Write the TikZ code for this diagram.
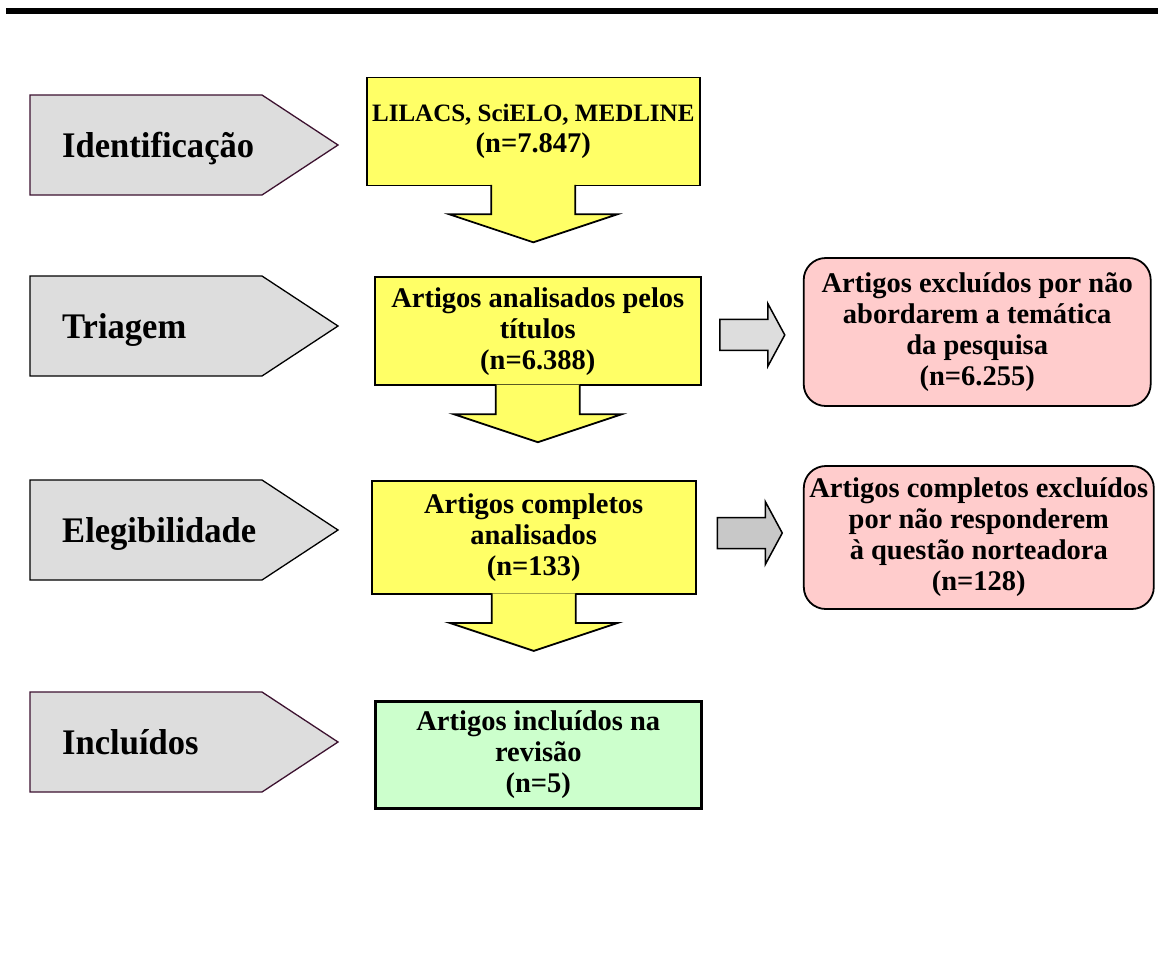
\documentclass[tikz,border=0pt]{standalone}
\usepackage{fontspec}
\setmainfont{Liberation Serif}
\newfontfamily\stagefont{Liberation Serif}[FakeStretch=0.96]
\usetikzlibrary{calc,positioning}
\definecolor{prismaGrey}{HTML}{DDDDDD}
\definecolor{prismaGreyTwo}{HTML}{C8C8C8}
\definecolor{prismaYellow}{HTML}{FFFF66}
\definecolor{prismaGreen}{HTML}{CCFFCC}
\definecolor{prismaPink}{HTML}{FFCCCC}
\definecolor{prismaPlum}{HTML}{3D1230}
% stage label: name, centre y, outline, text
\newcommand{\stagearrow}[4]{%
  \draw[stagebox,draw=#3] (30,#2) ++(0,-50) -- ++(232,0) -- ++(76,50) -- ++(-76,50) -- ++(-232,0) -- cycle;
  \node[stagetext] (#1) at ($(62,#2)+(0,12)$) {#4};}
% block arrow below a box
\newcommand{\blockdown}[2]{%
  \draw[line width=1.8pt,fill=#2] ($(#1.south)+(-42,-1.5)$) -- ++(0,29.5) -- ++(-42,0) -- ++(84,28) -- ++(84,-28) -- ++(-42,0) -- ++(0,-29.5);}
% block arrow between two boxes
\newcommand{\blockright}[4]{%
  \coordinate (mid) at ($(#1.east)!0.5!(#2.west)+(0,#4)$);
  \draw[line width=1.5pt,fill=#3] ($(mid)+(-32.5,-15.5)$) -- ++(48,0) -- ++(0,-16) -- ++(17,31.5) -- ++(-17,31.5) -- ++(0,-16) -- ++(-48,0) -- cycle;}

\begin{document}
\begin{tikzpicture}[x=1pt,y=-1pt,line join=miter]
\path[fill=white] (0,0) rectangle (1158,962);
\path[fill=black] (6,8) rectangle (1158,14);
\tikzset{stagebox/.style={fill=prismaGrey,line width=1.3pt},stagetext/.style={anchor=base west,inner sep=0pt,font=\stagefont\fontsize{36}{40}\selectfont\bfseries},box/.style={draw=black,line width=1.8pt,align=center,inner sep=0pt,font=\fontsize{28.5}{31}\selectfont\bfseries}}
\stagearrow{ident}{145}{prismaPlum}{Identificação}
\stagearrow{triag}{326}{black}{Triagem}
\stagearrow{eleg}{530}{black}{Elegibilidade}
\stagearrow{incl}{742}{prismaPlum}{Incluídos}
\node[box,fill=prismaYellow,minimum width=333pt,minimum height=108pt] (db) at (533.3,131.4) {{\fontsize{25}{31}\selectfont LILACS, SciELO, MEDLINE}\\(n=7.847)};
\node[box,fill=prismaYellow,minimum width=326pt,minimum height=108pt] (ana) at (537.8,331.3) {Artigos analisados pelos\\títulos\\(n=6.388)};
\node[box,fill=prismaYellow,minimum width=324pt,minimum height=113pt] (full) at (533.7,537.5) {Artigos completos\\analisados\\(n=133)};
\node[box,line width=2.6pt,fill=prismaGreen,minimum width=326pt,minimum height=107pt] (inc) at (538.3,755) {Artigos incluídos na\\revisão\\(n=5)};
\node[box,rounded corners=22pt,fill=prismaPink,minimum width=347pt,minimum height=148pt] (exc1) at (977.2,332) {Artigos excluídos por não\\abordarem a temática\\da pesquisa\\(n=6.255)};
\node[box,rounded corners=22pt,fill=prismaPink,minimum width=350pt,minimum height=143pt] (exc2) at (978.8,537.5) {Artigos completos excluídos\\por não responderem\\à questão norteadora\\(n=128)};
\blockdown{db}{prismaYellow}
\blockdown{ana}{prismaYellow}
\blockdown{full}{prismaYellow}
\blockright{ana}{exc1}{prismaGrey}{3.3}
\blockright{full}{exc2}{prismaGreyTwo}{-4.5}
\end{tikzpicture}
\end{document}
